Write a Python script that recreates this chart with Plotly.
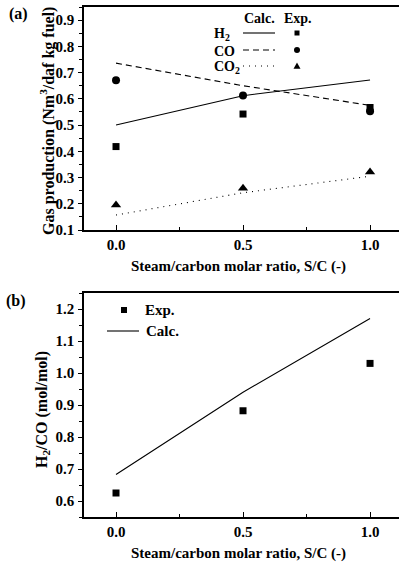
import plotly.graph_objects as go

# ---------------- data ----------------
sc = [0.0, 0.5, 1.0]

# panel (a): gas production (Nm3/daf kg fuel)
h2_calc = [0.500, 0.612, 0.672]
co_calc = [0.736, 0.650, 0.575]
co2_calc = [0.157, 0.242, 0.305]
h2_exp = [0.418, 0.542, 0.567]
co_exp = [0.671, 0.613, 0.553]
co2_exp = [0.195, 0.259, 0.321]

# panel (b): H2/CO ratio
ratio_exp = [0.625, 0.882, 1.030]
ratio_calc = [0.683, 0.940, 1.170]

x_ticks = [0.0, 0.5, 1.0]
x_ticklabels = ["0.0", "0.5", "1.0"]
ya_ticks = [0.1, 0.2, 0.3, 0.4, 0.5, 0.6, 0.7, 0.8, 0.9]
yb_ticks = [0.6, 0.7, 0.8, 0.9, 1.0, 1.1, 1.2]

FONT = "Liberation Serif"
W, H = 399, 564
L, R, T, B = 84, 0, 7, 47
PW = W - L - R
PH = H - T - B


def px(x):
    return (x - L) / PW


def py(y):
    return (H - B - y) / PH


fig = go.Figure()

line_w = 1.1
# ---- panel (a) ----
fig.add_trace(go.Scatter(x=sc, y=h2_calc, mode="lines", line=dict(color="black", width=line_w),
                         xaxis="x", yaxis="y", showlegend=False))
fig.add_trace(go.Scatter(x=sc, y=co_calc, mode="lines", line=dict(color="black", width=line_w, dash="6px,4px"),
                         xaxis="x", yaxis="y", showlegend=False))
fig.add_trace(go.Scatter(x=sc, y=co2_calc, mode="lines", line=dict(color="black", width=line_w, dash="1px,5px"),
                         xaxis="x", yaxis="y", showlegend=False))
fig.add_trace(go.Scatter(x=sc, y=h2_exp, mode="markers", marker=dict(symbol="square", size=7, color="black"),
                         xaxis="x", yaxis="y", showlegend=False))
fig.add_trace(go.Scatter(x=sc, y=co_exp, mode="markers", marker=dict(symbol="circle", size=8, color="black"),
                         xaxis="x", yaxis="y", showlegend=False))
fig.add_trace(go.Scatter(x=sc, y=co2_exp, mode="markers", marker=dict(symbol="triangle-up", size=9, color="black"),
                         xaxis="x", yaxis="y", showlegend=False))

# ---- panel (b) ----
fig.add_trace(go.Scatter(x=sc, y=ratio_calc, mode="lines", line=dict(color="black", width=line_w),
                         xaxis="x2", yaxis="y2", showlegend=False))
fig.add_trace(go.Scatter(x=sc, y=ratio_exp, mode="markers", marker=dict(symbol="square", size=7, color="black"),
                         xaxis="x2", yaxis="y2", showlegend=False))

tickfont = dict(family=FONT, size=15, color="black", weight="bold")

xcommon = dict(range=[-0.126, 1.114], tickvals=x_ticks, ticktext=x_ticklabels,
               showline=True, linecolor="black", linewidth=1.5, mirror=True,
               ticks="inside", ticklen=5, tickwidth=1, tickcolor="black",
               minor=dict(dtick=0.25, tick0=0, ticks="inside", ticklen=3, tickcolor="black"),
               showgrid=False, zeroline=False, tickfont=tickfont, ticklabelstandoff=0)
ycommon = dict(showline=True, linecolor="black", linewidth=1.5, mirror=False,
               ticks="outside", ticklen=4, tickwidth=1, tickcolor="black",
               minor=dict(dtick=0.05, ticks="outside", ticklen=3, tickcolor="black"),
               showgrid=False, zeroline=False, tickfont=tickfont, ticklabelstandoff=1)

ya_dom = [py(230), 1.0]
yb_dom = [0.0, py(293)]

fig.update_layout(
    width=W, height=H,
    margin=dict(l=L, r=R, t=T, b=B),
    plot_bgcolor="white", paper_bgcolor="white",
    font=dict(family=FONT, color="black"),
    xaxis=dict(**xcommon, anchor="y", domain=[0, 1]),
    yaxis=dict(**ycommon, anchor="x", domain=ya_dom, range=[0.1, 0.95], tickvals=ya_ticks,
               ticktext=[f"{v:.1f}" for v in ya_ticks]),
    xaxis2=dict(**xcommon, anchor="y2", domain=[0, 1]),
    yaxis2=dict(**ycommon, anchor="x2", domain=yb_dom, range=[0.55, 1.25], tickvals=yb_ticks,
                ticktext=[f"{v:.1f}" for v in yb_ticks]),
)

annots = []


def txt(x, y, s, xanchor="center", yanchor="middle", angle=0, size=15):
    annots.append(dict(x=px(x), y=py(y), xref="paper", yref="paper", text=s, showarrow=False,
                       xanchor=xanchor, yanchor=yanchor, textangle=angle,
                       font=dict(family=FONT, size=size, color="black", weight="bold")))


# panel labels
txt(18, 14, "(a)", size=16)
txt(16, 301, "(b)", size=16)
# axis titles
txt(238, 266, "Steam/carbon molar ratio, S/C (-)", size=15)
txt(238, 553, "Steam/carbon molar ratio, S/C (-)", size=15)
txt(48, 121, "Gas production (Nm<sup>3</sup>/daf kg fuel)", angle=-90, size=16)
txt(42, 410, "H<sub>2</sub>/CO (mol/mol)", angle=-90, size=16)

# legend (a)
txt(259, 18, "Calc.", size=14)
txt(298, 18, "Exp.", size=14)
txt(212, 34, "H<sub>2</sub>", xanchor="left", size=14)
txt(212, 51, "CO", xanchor="left", size=14)
txt(212, 67, "CO<sub>2</sub>", xanchor="left", size=14)
# legend (b)
txt(143, 310, "Exp.", xanchor="left", size=15)
txt(144, 331, "Calc.", xanchor="left", size=15)

shapes = []


def hline(x0, x1, y, dash="solid"):
    shapes.append(dict(type="line", xref="paper", yref="paper", x0=px(x0), x1=px(x1), y0=py(y), y1=py(y),
                       line=dict(color="black", width=line_w, dash=dash)))


def marker_shape(kind, x, y, s):
    base = dict(xref="paper", yref="paper", xsizemode="pixel", ysizemode="pixel",
                xanchor=px(x), yanchor=py(y), fillcolor="black", line=dict(color="black", width=0))
    h = s / 2
    if kind == "square":
        shapes.append(dict(type="rect", x0=-h, x1=h, y0=-h, y1=h, **base))
    elif kind == "circle":
        shapes.append(dict(type="circle", x0=-h, x1=h, y0=-h, y1=h, **base))
    else:
        shapes.append(dict(type="path", path=f"M {-h} {-h*0.8} L {h} {-h*0.8} L 0 {h} Z", **base))


hline(243, 275, 33)
hline(243, 275, 50, dash="6px,4px")
hline(243, 275, 66, dash="1px,5px")
marker_shape("square", 297, 33, 5)
marker_shape("circle", 297, 50, 6)
marker_shape("triangle", 297, 66, 7)

marker_shape("square", 124, 310, 6)
hline(107, 139, 331)

fig.update_layout(annotations=annots, shapes=shapes)

fig.write_html("out.html")
